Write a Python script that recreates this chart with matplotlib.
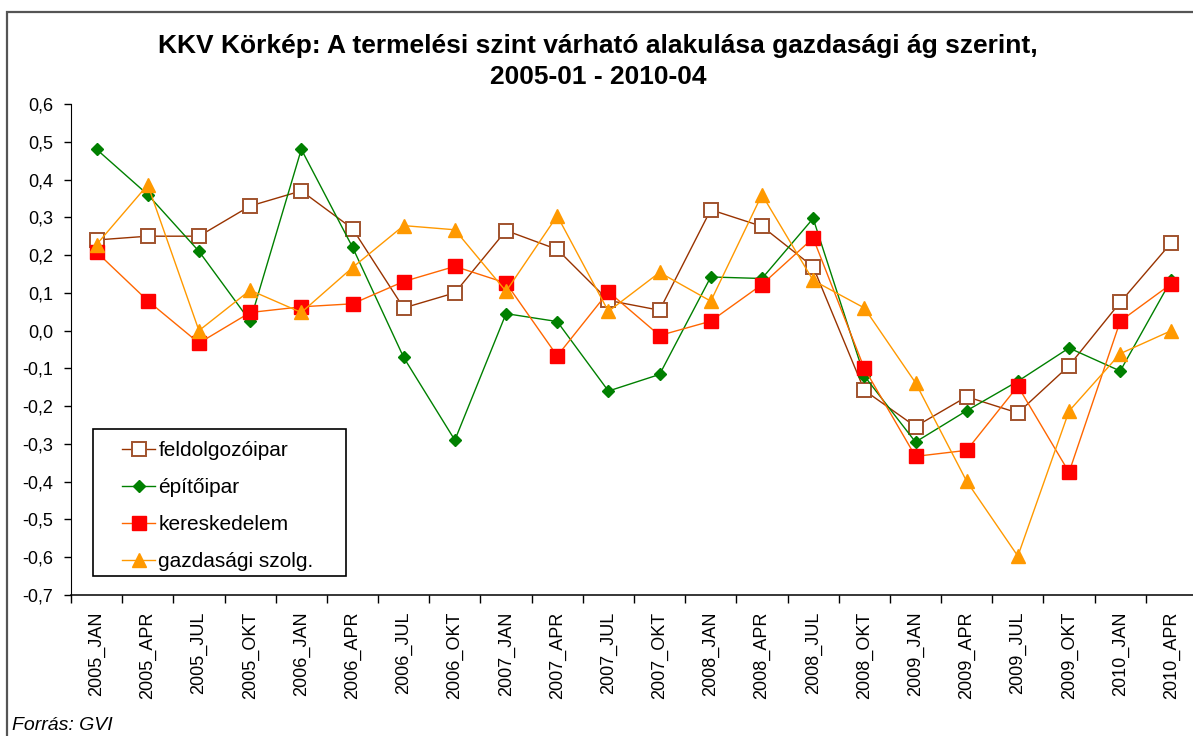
import matplotlib.pyplot as plt
import numpy as np
from matplotlib.patches import Rectangle

plt.rcParams['font.family'] = ['Liberation Sans', 'DejaVu Sans']

periods = ['2005_JAN', '2005_APR', '2005_JUL', '2005_OKT',
           '2006_JAN', '2006_APR', '2006_JUL', '2006_OKT',
           '2007_JAN', '2007_APR', '2007_JUL', '2007_OKT',
           '2008_JAN', '2008_APR', '2008_JUL', '2008_OKT',
           '2009_JAN', '2009_APR', '2009_JUL', '2009_OKT',
           '2010_JAN', '2010_APR']

feldolgozoipar = [0.24, 0.25, 0.25, 0.33, 0.37, 0.27, 0.06, 0.10, 0.265, 0.215, 0.08,
                  0.054, 0.32, 0.276, 0.169, -0.158, -0.254, -0.175, -0.218, -0.093,
                  0.075, 0.233]
epitoipar = [0.48, 0.36, 0.21, 0.025, 0.48, 0.221, -0.071, -0.29, 0.045, 0.024, -0.16,
             -0.116, 0.142, 0.138, 0.297, -0.12, -0.295, -0.212, -0.134, -0.046,
             -0.107, 0.135]
kereskedelem = [0.208, 0.079, -0.033, 0.048, 0.063, 0.071, 0.13, 0.17, 0.126, -0.067,
                0.103, -0.013, 0.025, 0.122, 0.245, -0.10, -0.333, -0.317, -0.147,
                -0.375, 0.025, 0.124]
gazd_szolg = [0.228, 0.386, 0.0, 0.107, 0.048, 0.167, 0.278, 0.267, 0.104, 0.304, 0.051,
              0.154, 0.078, 0.36, 0.133, 0.06, -0.138, -0.399, -0.597, -0.213,
              -0.061, 0.0]

W, H = 1193, 736
fig = plt.figure(figsize=(W / 100, H / 100), dpi=100)


def px(x, y):
    # pixel position (from top left) -> figure fraction
    return x / W, 1 - y / H


# chart frame (runs off the right and bottom edge)
fig.patches.append(Rectangle((7 / W, -0.05), 1.2, 1 - 12 / H + 0.05,
                             transform=fig.transFigure, fill=False,
                             edgecolor='#555555', lw=1.6))

ax = fig.add_axes([71 / W, (H - 595) / H, (1197 - 71) / W, (595 - 104) / H])
ax.patch.set_alpha(0)

x = np.arange(len(periods))
ax.plot(x, feldolgozoipar, color='#993300', lw=1.0, marker='s', ms=9.5,
        mfc='white', mec='#a0522d', mew=1.4, label='feldolgozóipar')
ax.plot(x, epitoipar, color='#008000', lw=1.0, marker='D', ms=6.5,
        mfc='#008000', mec='#008000', label='építőipar')
ax.plot(x, kereskedelem, color='#ff6600', lw=1.0, marker='s', ms=9.5,
        mfc='#ff0000', mec='#ff0000', label='kereskedelem')
ax.plot(x, gazd_szolg, color='#ff9900', lw=1.0, marker='^', ms=10,
        mfc='#ff9900', mec='#ff9900', label='gazdasági szolg.')

ax.set_xlim(-0.5, len(periods) - 0.5)
ax.set_ylim(-0.7, 0.6)
yt = np.round(np.arange(-0.7, 0.61, 0.1), 1)
ax.set_yticks(yt)
ax.set_yticklabels([f"{v:.1f}".replace('.', ',').replace('-0,0', '0,0') for v in yt],
                   fontsize=13)

# boundary ticks between categories, labels at the centres
ax.set_xticks(np.arange(-0.5, len(periods), 1))
ax.set_xticklabels([])
ax.set_xticks(x, minor=True)
ax.set_xticklabels(periods, minor=True, rotation=90, fontsize=13)
ax.tick_params(axis='x', which='major', direction='out', length=6, width=1)
ax.tick_params(axis='x', which='minor', length=0, pad=12)
ax.tick_params(axis='y', direction='out', length=5, width=1, pad=8)

for s in ['top', 'right']:
    ax.spines[s].set_visible(False)
ax.spines['left'].set_color('black')
ax.spines['bottom'].set_color('black')
ax.spines['bottom'].set_linewidth(1.1)

# legend box drawn separately, entries placed inside it
x0, y0 = px(93, 576)
x1, y1 = px(346, 429)
ax.add_patch(Rectangle((x0, y0), x1 - x0, y1 - y0, transform=fig.transFigure,
                       fill=True, facecolor='white', edgecolor='black',
                       lw=1.2, zorder=4, clip_on=False))
leg = ax.legend(loc='upper left', bbox_to_anchor=px(122, 441),
                bbox_transform=fig.transFigure, fontsize=15, frameon=False,
                handlelength=1.6, labelspacing=0.87, borderpad=0,
                handletextpad=0.15, borderaxespad=0)
leg.set_zorder(6)

fig.text(*px(598, 52.5),
         'KKV Körkép: A termelési szint várható alakulása gazdasági ág szerint,',
         ha='center', va='baseline', fontsize=19, fontweight='bold')
fig.text(*px(598, 83.5), '2005-01 - 2010-04',
         ha='center', va='baseline', fontsize=19, fontweight='bold')
fig.text(*px(12, 730), 'Forrás: GVI', fontsize=14, style='italic', va='baseline')

fig.savefig('out.png', dpi=100)
